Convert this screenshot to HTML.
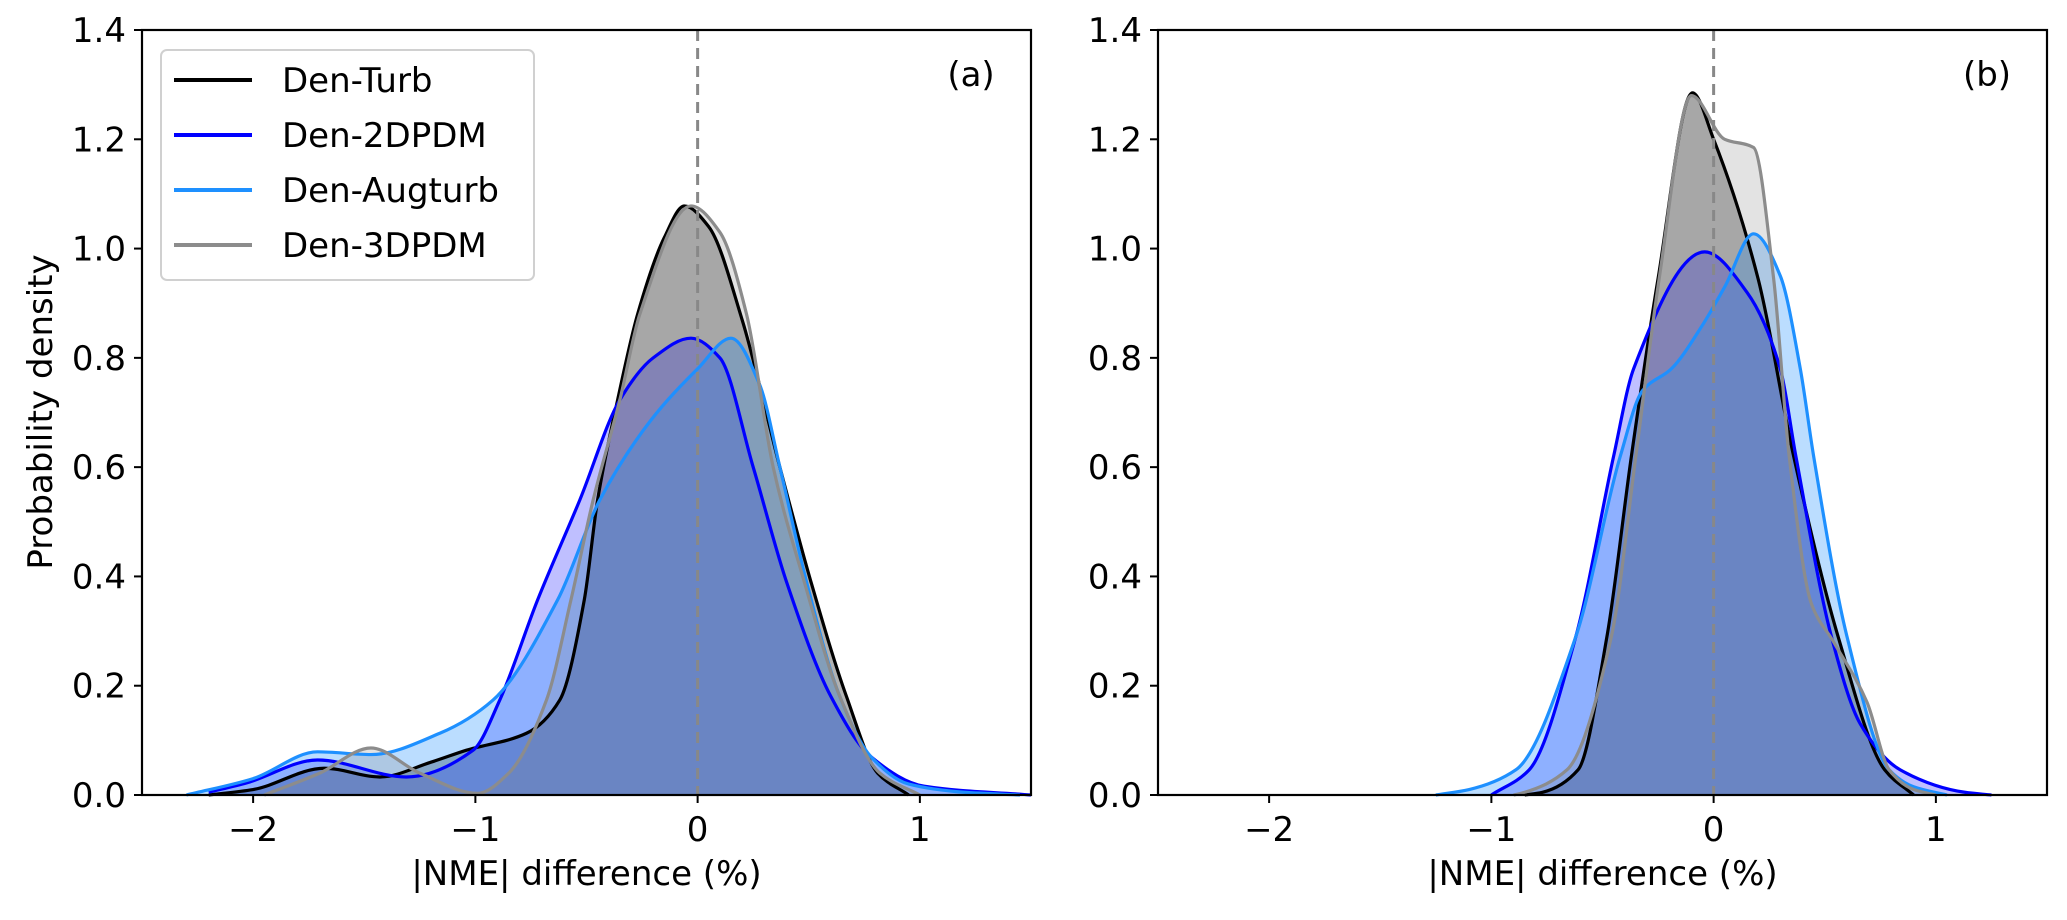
<!DOCTYPE html>
<html><head><meta charset="utf-8"><style>
html,body{margin:0;padding:0;background:#fff}
svg text{font-family:"DejaVu Sans","Liberation Sans",sans-serif;fill:#000}
</style></head><body>
<svg id="chart" width="2067" height="915" viewBox="0 0 2067 915" xmlns="http://www.w3.org/2000/svg"></svg>
<script>
const seriesNames = ["Den-Turb","Den-2DPDM","Den-Augturb","Den-3DPDM"];
const seriesColors = ["#000000","#0000ff","#1e90ff","#8c8c8c"];
const seriesFills = ["rgba(0,0,0,0.3)","rgba(0,0,255,0.25)","rgba(30,144,255,0.3)","rgba(128,128,128,0.22)"];
const yTicks = [0.0,0.2,0.4,0.6,0.8,1.0,1.2,1.4];
const xTicks = [-2,-1,0,1];
// panel (a)
const aTurbX = [-2.2,-2.0,-1.68,-1.43,-1.2,-1.04,-0.77,-0.62,-0.51,-0.45,-0.36,-0.27,-0.15,-0.06,0.05,0.2,0.37,0.51,0.67,0.81,0.95];
const aTurbY = [0,0.01,0.049,0.033,0.06,0.082,0.113,0.174,0.357,0.54,0.723,0.88,1.02,1.078,1.04,0.87,0.6,0.39,0.18,0.04,0];
const a2dX = [-2.2,-2.03,-1.71,-1.31,-1.01,-0.89,-0.72,-0.53,-0.35,-0.2,-0.03,0.1,0.25,0.4,0.6,0.78,1.02,1.5];
const a2dY = [0.005,0.022,0.064,0.033,0.082,0.174,0.357,0.54,0.723,0.8,0.836,0.8,0.6,0.39,0.18,0.07,0.016,0];
const aAugX = [-2.3,-2.0,-1.71,-1.47,-1.16,-0.92,-0.63,-0.44,-0.21,0.0,0.15,0.28,0.37,0.49,0.64,0.78,0.95,1.2,1.45];
const aAugY = [0,0.03,0.079,0.074,0.113,0.174,0.357,0.54,0.686,0.78,0.836,0.75,0.6,0.39,0.18,0.07,0.02,0.005,0];
const a3dX = [-1.95,-1.7,-1.47,-1.25,-0.99,-0.85,-0.68,-0.57,-0.47,-0.35,-0.26,-0.03,0.1,0.22,0.34,0.48,0.64,0.82,1.0];
const a3dY = [0,0.04,0.086,0.04,0.003,0.04,0.174,0.357,0.54,0.723,0.88,1.078,1.03,0.88,0.6,0.39,0.18,0.04,0];
// panel (b)
const bTurbX = [-0.85,-0.77,-0.61,-0.48,-0.37,-0.25,-0.095,0.0,0.2,0.36,0.56,0.77,0.9];
const bTurbY = [0,0.005,0.046,0.29,0.62,0.945,1.285,1.2,0.945,0.62,0.29,0.046,0];
const b2dX = [-1.0,-0.83,-0.62,-0.45,-0.36,-0.04,0.15,0.3,0.37,0.53,0.66,0.84,1.13,1.25];
const b2dY = [0,0.046,0.29,0.62,0.78,0.994,0.92,0.78,0.62,0.29,0.13,0.046,0.005,0];
const bAugX = [-1.25,-1.1,-0.89,-0.62,-0.42,-0.32,-0.19,-0.05,0.05,0.18,0.3,0.39,0.45,0.6,0.79,0.9,1.05];
const bAugY = [0,0.01,0.046,0.29,0.62,0.74,0.78,0.86,0.93,1.027,0.95,0.78,0.62,0.29,0.046,0.015,0];
const b3dX = [-0.9,-0.85,-0.66,-0.46,-0.35,-0.245,-0.1,0.05,0.18,0.27,0.34,0.44,0.54,0.69,0.79,0.9,1.0];
const b3dY = [0,0.005,0.046,0.29,0.62,0.945,1.28,1.2,1.185,0.945,0.62,0.35,0.28,0.17,0.046,0.01,0];

const NS="http://www.w3.org/2000/svg";
const svg=document.getElementById('chart');
function mk(tag,attrs,parent){const e=document.createElementNS(NS,tag);for(const k in attrs)e.setAttribute(k,attrs[k]);(parent||svg).appendChild(e);return e;}
function smooth(pts){
  const n=pts.length;const dx=[],m=[];
  for(let i=0;i<n-1;i++){dx.push(pts[i+1][0]-pts[i][0]);m.push((pts[i+1][1]-pts[i][1])/dx[i]);}
  const t=new Array(n);t[0]=m[0];t[n-1]=m[n-2];
  for(let i=1;i<n-1;i++){if(m[i-1]*m[i]<=0)t[i]=0;else{const w1=2*dx[i]+dx[i-1],w2=dx[i]+2*dx[i-1];t[i]=(w1+w2)/(w1/m[i-1]+w2/m[i]);}}
  let d=`M${pts[0][0]},${pts[0][1]}`;
  for(let i=0;i<n-1;i++){const h=dx[i]/3;d+=` C${pts[i][0]+h},${pts[i][1]+t[i]*h} ${pts[i+1][0]-h},${pts[i+1][1]-t[i+1]*h} ${pts[i+1][0]},${pts[i+1][1]}`;}
  return d;
}

function panel(x0,label,data,legend,pname){
  const L=x0,R=x0+889,T=30,B=795;
  const xs=v=>L+(v+2.5)/4*(R-L);
  const ys=v=>B-v/1.4*(B-T);
  const g=mk('g',{});
  
  
  data.forEach((s,i)=>{
    const pts=s[0].map((x,j)=>[xs(x),ys(s[1][j])]);
    const d=smooth(pts);
    const f=mk('path',{d:d+` L${pts[pts.length-1][0]},${B} L${pts[0][0]},${B} Z`,fill:seriesFills[i],stroke:'none'},g);
    
    
  });
  data.forEach((s,i)=>{
    const pts=s[0].map((x,j)=>[xs(x),ys(s[1][j])]);
    const p=mk('path',{d:smooth(pts),fill:'none',stroke:seriesColors[i],'stroke-width':3.2},g);
    
    
  });
  const dl=mk('line',{x1:xs(0),x2:xs(0),y1:T,y2:B,stroke:'#888','stroke-width':3,'stroke-dasharray':'11,7'},g);
  
  
  const fr=mk('rect',{x:L,y:T,width:R-L,height:B-T,fill:'none',stroke:'#000','stroke-width':2.2},g);
  
  
  yTicks.forEach(v=>{
    mk('line',{x1:L-8,x2:L,y1:ys(v),y2:ys(v),stroke:'#000','stroke-width':2},g);
    const t=mk('text',{x:L-16,y:ys(v)+12,'text-anchor':'end','font-size':34},g);
    t.textContent=v.toFixed(1);
    
    
  });
  xTicks.forEach(v=>{
    mk('line',{x1:xs(v),x2:xs(v),y1:B,y2:B+8,stroke:'#000','stroke-width':2},g);
    const t=mk('text',{x:xs(v),y:B+46,'text-anchor':'middle','font-size':34},g);
    t.textContent=v<0?'\u2212'+Math.abs(v):String(v);
    
    
  });
  const xl=mk('text',{x:(L+R)/2,y:885,'text-anchor':'middle','font-size':34},g);
  xl.textContent='|NME| difference (%)';
  
  
  const pl=mk('text',{x:R-60,y:86,'text-anchor':'middle','font-size':34},g);
  pl.textContent=label;
  
  
  if(legend){
    const lg=mk('g',{},g);
    
    
    mk('rect',{x:161,y:50,width:373,height:230,rx:6,fill:'rgba(255,255,255,0.85)',stroke:'#d0d0d0','stroke-width':2},lg);
    seriesNames.forEach((n,i)=>{
      const y=80+i*55;
      const e=mk('g',{},lg);
      
      
      mk('line',{x1:174,x2:252,y1:y,y2:y,stroke:seriesColors[i],'stroke-width':4},e);
      const t=mk('text',{x:282,y:y+12,'font-size':34},e);
      t.textContent=n;
    });
  }
}
panel(142,'(a)',[[aTurbX,aTurbY],[a2dX,a2dY],[aAugX,aAugY],[a3dX,a3dY]],true,'panel-a');
panel(1158,'(b)',[[bTurbX,bTurbY],[b2dX,b2dY],[bAugX,bAugY],[b3dX,b3dY]],false,'panel-b');
const yl=mk('text',{x:0,y:0,'text-anchor':'middle','font-size':34,transform:'translate(52,412) rotate(-90)'});
yl.textContent='Probability density';


</script>
</body></html>
